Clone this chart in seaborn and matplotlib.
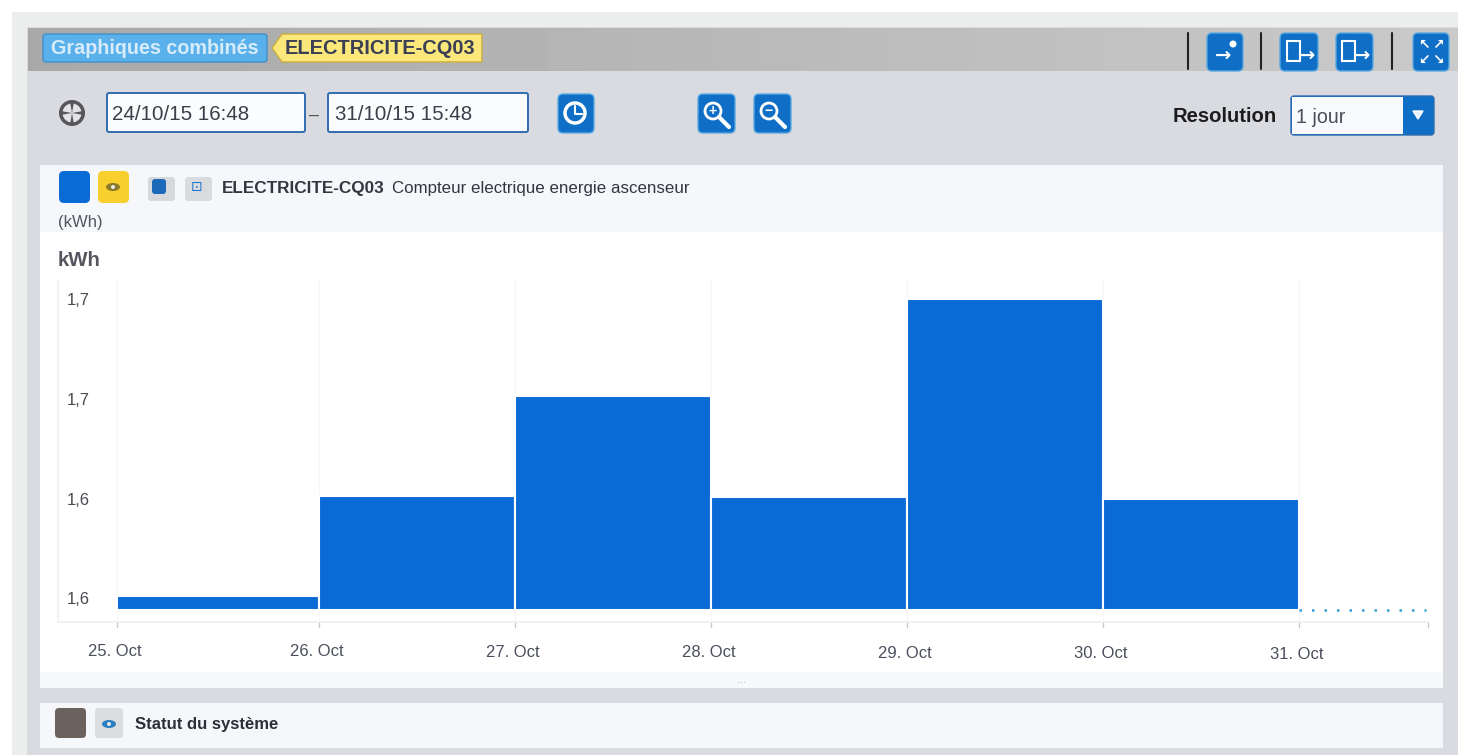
import numpy as np
import matplotlib
matplotlib.use("Agg")
import matplotlib.pyplot as plt
import seaborn as sns
from matplotlib.patches import Ellipse, FancyBboxPatch, Rectangle, Circle, Polygon, Wedge
from matplotlib.transforms import ScaledTranslation

# data
day_edges = [24.97, 26, 27, 28, 29, 30, 31]
day_labels = ["25. Oct", "26. Oct", "27. Oct", "28. Oct", "29. Oct", "30. Oct", "31. Oct"]
kwh_values = [1.581, 1.621, 1.6612, 1.6205, 1.700, 1.620]
base_value = 1.5753
y_ticks = [1.58, 1.62, 1.66, 1.70]
y_labels = ["1,6", "1,6", "1,7", "1,7"]
last_period = [31, 31.65]

WIDTH, HEIGHT = 1458, 755
BLUE = "#0a6ad6"

sns.set_theme(style="white")
plt.rcParams["font.family"] = ["Liberation Sans", "DejaVu Sans"]

fig = plt.figure(figsize=(WIDTH / 100, HEIGHT / 100), dpi=100, facecolor="white")

# background axes in pixel coordinates for the screen furniture
bg = fig.add_axes([0, 0, 1, 1], zorder=0)
bg.set_xlim(0, WIDTH)
bg.set_ylim(HEIGHT, 0)
bg.axis("off")


def rect(x0, y0, x1, y1, color, z=1):
    bg.add_patch(Rectangle((x0, y0), x1 - x0, y1 - y0, facecolor=color, edgecolor="none", zorder=z))


def rbox(x0, y0, x1, y1, color, edge="none", r=4, lw=1.0):
    bg.add_patch(FancyBboxPatch((x0 + r, y0 + r), x1 - x0 - 2 * r, y1 - y0 - 2 * r,
                                boxstyle=f"round,pad={r},rounding_size={r}",
                                facecolor=color, edgecolor=edge, linewidth=lw))


def label(x, y, s, size=11.5, color="#333333", weight="normal", ha="left"):
    bg.text(x, y + 1.5, s, fontsize=size, color=color, fontweight=weight, ha=ha, va="center")


def button(x0, y0, x1, y1):
    rbox(x0, y0, x1, y1, "#0f6fc6", edge="#5aa9e0", r=5)


def eye(cx, cy, color):
    bg.add_patch(Ellipse((cx, cy), 14, 8, facecolor=color, edgecolor="none", zorder=3))
    bg.add_patch(Circle((cx, cy), 2, facecolor="#e8e8e8", edgecolor="none", zorder=4))


# panels
rect(12, 12, WIDTH, HEIGHT, "#eceded", z=-3)
rect(27, 27, WIDTH, HEIGHT, "#d9dbe0", z=-3)

# header band
shade = np.linspace(0.66, 0.79, 256).reshape(1, -1)
bg.imshow(shade, extent=(28, WIDTH, 71, 28), cmap="gray", vmin=0, vmax=1, aspect="auto", zorder=-2)
bg.set_xlim(0, WIDTH)
bg.set_ylim(HEIGHT, 0)

rbox(43, 34, 267, 62, "#5ab0ea", edge="#3f8fc8", r=3)
label(51, 47, "Graphiques combinés", size=14.2, color="#d6ecfa", weight="bold")
bg.add_patch(Polygon([[272, 48], [282, 34], [482, 34], [482, 62], [282, 62]],
                     closed=True, facecolor="#fbe77a", edgecolor="#c9ae3e", linewidth=1))
label(285, 47, "ELECTRICITE-CQ03", size=14.4, color="#3a3f55", weight="bold")

# header right icons
for x0, x1 in [(1207, 1243), (1280, 1318), (1336, 1373), (1413, 1449)]:
    button(x0, 33, x1, 71)
for x in [1188, 1261, 1392]:
    bg.plot([x, x], [33, 69], color="#222222", lw=1.5)
for x, s in [(1223, "→"), (1307, "→"), (1362, "→")]:
    bg.text(x, 55, s, fontsize=14, color="white", ha="center", va="center",
            fontweight="bold", family="DejaVu Sans", zorder=5)
bg.add_patch(Circle((1233, 44), 3.5, facecolor="white", edgecolor="none", zorder=5))
for x in [1287, 1342]:
    bg.add_patch(Rectangle((x, 41), 13, 20, facecolor="none", edgecolor="white", lw=1.5, zorder=5))
for x, y, s in [(1424, 45, "↖"), (1438, 45, "↗"), (1424, 60, "↙"), (1438, 60, "↘")]:
    bg.text(x, y, s, fontsize=10, color="white", ha="center", va="center", fontweight="bold",
            family="DejaVu Sans", zorder=5)

# date row
bg.add_patch(Circle((72, 113), 13, facecolor="#55555a", edgecolor="none"))
for a1, a2 in [(10, 80), (100, 170), (190, 260), (280, 350)]:
    bg.add_patch(Wedge((72, 113), 9.5, a1, a2, facecolor="#e4e4e6", edgecolor="none"))
rbox(107, 93, 305, 132, "#fbfcfe", edge="#2f6db0", r=2, lw=1.4)
label(112, 113, "24/10/15 16:48", size=14.8, color="#3c3f4a")
label(309, 114, "–", size=13, color="#555555")
rbox(328, 93, 528, 132, "#fbfcfe", edge="#2f6db0", r=2, lw=1.4)
label(335, 113, "31/10/15 15:48", size=14.8, color="#3c3f4a")
button(558, 94, 594, 133)
bg.add_patch(Circle((575, 113), 10, facecolor="none", edgecolor="white", linewidth=2.5, zorder=5))
bg.plot([575, 575, 582], [106, 114, 114], color="white", lw=1.5, zorder=5)
button(698, 94, 735, 133)
button(754, 94, 791, 133)
for cx, s in [(713, "+"), (769, "−")]:
    bg.add_patch(Circle((cx, 111), 8, facecolor="none", edgecolor="white", linewidth=2, zorder=5))
    bg.plot([cx + 6, cx + 16], [117, 127], color="white", lw=3, zorder=5)
    bg.text(cx, 111, s, fontsize=10, color="white", ha="center", va="center", fontweight="bold", zorder=5)

label(1173, 115, "Resolution", size=14.6, color="#1c1c1c", weight="bold")
rbox(1291, 96, 1434, 135, "#0f6fc6", edge="#2f6db0", r=3)
rect(1292, 97, 1403, 134, "#f8fafd", z=2)
label(1296, 116, "1 jour", size=14.1, color="#4a4f5a")
bg.add_patch(Polygon([[1413, 111], [1423, 111], [1418, 119]], closed=True, facecolor="#e8f1fa", zorder=3))

# chart card
rect(40, 165, 1443, 688, "white")
rect(40, 165, 1443, 232, "#f6f7fb")
rect(40, 672, 1443, 688, "#f8f9fb")
rbox(59, 171, 90, 203, BLUE, r=5)
rbox(98, 171, 129, 203, "#f8cf2d", r=5)
eye(113, 187, "#8a7a2a")
rbox(148, 177, 175, 201, "#d6d8dc", r=3)
rbox(152, 179, 166, 194, "#1b69b8", r=3)
rbox(185, 177, 212, 201, "#d9dbdf", r=3)
bg.text(197, 187, "⊡", fontsize=10, color="#1b78d0", ha="center", va="center", family="DejaVu Sans", zorder=5)
label(222, 187, "ELECTRICITE-CQ03", size=12.3, color="#33353f", weight="bold")
label(392, 187, "Compteur electrique energie ascenseur", size=12.15, color="#33353f")
label(58, 221, "(kWh)", size=12, color="#555560")
label(58, 259, "kWh", size=14.7, color="#55555f", weight="bold")
bg.text(742, 680, "...", fontsize=8, color="#b0b0b5", ha="center", va="center")

# lower card
rect(40, 703, 1443, 748, "#f6f7fb")
rbox(55, 708, 86, 738, "#6b625e", r=4)
rbox(95, 708, 123, 738, "#dcdde0", r=3)
eye(109, 724, "#2a7fc0")
label(135, 723, "Statut du système", size=12, color="#2e2e36", weight="bold")

# chart, axes placed in pixels
left, right, top, bottom = 58, 1428, 280, 622
ax = fig.add_axes([left / WIDTH, 1 - bottom / HEIGHT, (right - left) / WIDTH, (bottom - top) / HEIGHT],
                  zorder=1, facecolor="none")

edges = np.array(day_edges)
centers = (edges[:-1] + edges[1:]) / 2
heights = np.array(kwh_values) - base_value
sns.barplot(x=centers, y=heights, bottom=base_value, native_scale=True, color=BLUE,
            saturation=1, width=1, edgecolor="white", linewidth=1.5, ax=ax, errorbar=None)

# first period starts slightly earlier, keep each bar on its own day edges
for patch, x0, x1 in zip(ax.patches, edges[:-1], edges[1:]):
    patch.set_x(x0)
    patch.set_width(x1 - x0)

ax.plot(last_period, [base_value, base_value], color="#35a0cf", lw=1.8, linestyle=(0, (1, 4)), zorder=3,
        clip_on=False)

ax.set_xlim(24.668, 31.658)
ax.set_ylim(1.5705, 1.7076)
ax.set_xlabel("")
ax.set_ylabel("")
ax.set_xticks(day_edges, labels=day_labels)
ax.set_yticks(y_ticks, labels=y_labels)
ax.tick_params(axis="x", length=0, pad=15.5, labelsize=12, labelcolor="#4a4f5c")
ax.tick_params(axis="y", length=0, direction="in", pad=-6, labelsize=12, labelcolor="#4a4a50")
for t in ax.get_yticklabels():
    t.set_ha("left")

# the scan is slightly tilted, labels drop going right
for i, t in enumerate(ax.get_xticklabels()):
    t.set_transform(t.get_transform() + ScaledTranslation(-0.02, -0.005 * i, fig.dpi_scale_trans))

ax.grid(axis="x", color="#f6f7f8", lw=1)
ax.set_axisbelow(True)
sns.despine(ax=ax, top=True, right=True, left=False, bottom=False)
ax.spines["left"].set_color("#f0f1f2")
ax.spines["bottom"].set_color("#eef0f2")
for x in day_edges + [ax.get_xlim()[1]]:
    ax.plot([x, x], [1.5705, 1.5683], color="#c8c8cc", lw=1, clip_on=False)

fig.savefig("out.png", dpi=100)
